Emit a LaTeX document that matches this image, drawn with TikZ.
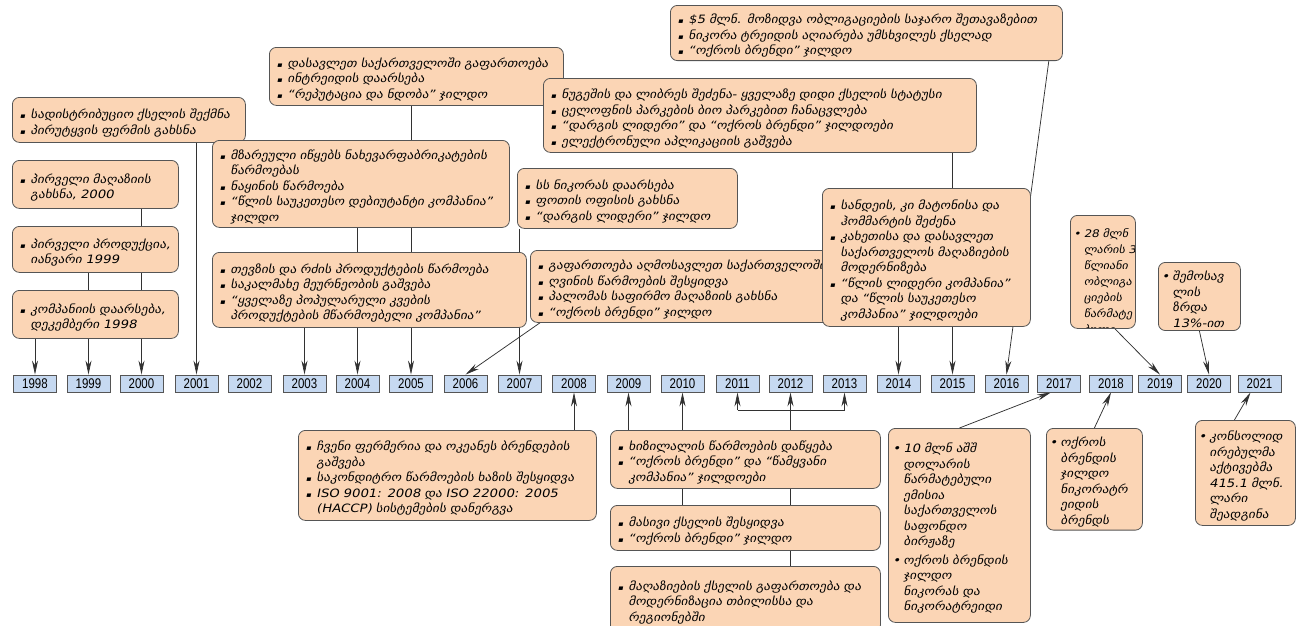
\documentclass[tikz,border=0pt]{standalone}
\usepackage{fontspec}
\usepackage{enumitem}
\usetikzlibrary{arrows.meta, backgrounds, positioning}
\setmainfont{DejaVu Sans}[FakeSlant=0.2, FakeStretch=1.15]
\newfontfamily\yrfont{Liberation Sans}[FakeStretch=0.82]
\definecolor{boxpeach}{RGB}{251, 213, 181}
\definecolor{boxline}{RGB}{85, 85, 85}
\definecolor{yearblue}{RGB}{198, 217, 241}
\definecolor{linkgray}{RGB}{50, 50, 50}
\newlist{events}{itemize}{1}
\setlist[events]{label={\scriptsize ▪}, leftmargin=13pt, labelsep=5pt, itemsep=0pt, parsep=0pt, topsep=0pt, partopsep=0pt}
\newlist{narrow}{itemize}{1}
\setlist[narrow]{label=\textbullet, leftmargin=10pt, labelsep=3pt, itemsep=3pt, parsep=0pt, topsep=0pt, partopsep=0pt}

\begin{document}
\begin{tikzpicture}[
  x=1pt, y=-1pt,
  event/.style={draw=boxline, fill=boxpeach, line width=0.8pt, rounded corners=7pt, anchor=north west, inner xsep=5pt, inner ysep=3pt, align=left, font=\fontsize{11.5}{15.5}\selectfont},
  yearbox/.style={draw=boxline, fill=yearblue, line width=0.8pt, minimum width=43pt, minimum height=17pt, inner sep=0pt, font=\yrfont\fontsize{14}{14}\selectfont},
  link/.style={draw=linkgray, line width=0.75pt},
  arr/.style={link, -{Stealth[length=14pt, width=6pt, inset=4.5pt]}}
]
  \useasboundingbox (0,0) rectangle (1302,625);
  \clip (0,0) rectangle (1302,625);

  % timeline
  \foreach \yr/\xx in {1998/35, 1999/88.5, 2000/141.5, 2001/196.5, 2002/249.5, 2003/304.5, 2004/357.5, 2005/411, 2006/465.5, 2007/519.5, 2008/574, 2009/628.5, 2010/682.5, 2011/737.5, 2012/790.5, 2013/844.5, 2014/898.5, 2015/952.5, 2016/1006.5, 2017/1059, 2018/1111, 2019/1160, 2020/1209, 2021/1259.5}
    \node[yearbox] (y\yr) at (\xx,383.5) {\yr};

  % upper events
  \node[event, minimum width=233pt, minimum height=45pt, text width=223pt] (sadistr) at (12,97) {
    \begin{events}
      \item სადისტრიბუციო ქსელის შექმნა
      \item პირუტყვის ფერმის გახსნა
    \end{events}};
  \node[event, minimum width=166pt, minimum height=48pt, text width=156pt] (pirvmag) at (12,160) {
    \begin{events}
      \item პირველი მაღაზიის გახსნა, 2000
    \end{events}};
  \node[event, minimum width=166pt, minimum height=46pt, text width=156pt] (pirvprod) at (12,226) {
    \begin{events}
      \item პირველი პროდუქცია, იანვარი 1999
    \end{events}};
  \node[event, minimum width=166pt, minimum height=48pt, text width=156pt] (daarseba) at (12,290) {
    \begin{events}
      \item კომპანიის დაარსება, დეკემბერი 1998
    \end{events}};
  \node[event, minimum width=294pt, minimum height=58pt, text width=284pt] (dasavleti) at (269,47) {
    \begin{events}
      \item დასავლეთ საქართველოში გაფართოება
      \item ინტრეიდის დაარსება
      \item “რეპუტაცია და ნდობა” ჯილდო
    \end{events}};
  \node[event, minimum width=297pt, minimum height=87pt, text width=287pt] (mzareuli) at (212,140) {
    \begin{events}
      \item მზარეული იწყებს ნახევარფაბრიკატების წარმოებას
      \item ნაყინის წარმოება
      \item “წლის საუკეთესო დებიუტანტი კომპანია” ჯილდო
    \end{events}};
  \node[event, minimum width=314pt, minimum height=75pt, text width=304pt] (tevzi) at (212,252) {
    \begin{events}
      \item თევზის და რძის პროდუქტების წარმოება
      \item საკალმახე მეურნეობის გაშვება
      \item “ყველაზე პოპულარული კვების პროდუქტების მწარმოებელი კომპანია”
    \end{events}};
  \node[event, minimum width=433pt, minimum height=74pt, text width=423pt] (nugeshi) at (543,78) {
    \begin{events}
      \item ნუგეშის და ლიბრეს შეძენა- ყველაზე დიდი ქსელის სტატუსი
      \item ცელოფნის პარკების ბიო პარკებით ჩანაცვლება
      \item “დარგის ლიდერი” და “ოქროს ბრენდი” ჯილდოები
      \item ელექტრონული აპლიკაციის გაშვება
    \end{events}};
  \node[event, minimum width=220pt, minimum height=60pt, text width=210pt] (ssnikora) at (517,168) {
    \begin{events}
      \item სს ნიკორას დაარსება
      \item ფოთის ოფისის გახსნა
      \item “დარგის ლიდერი” ჯილდო
    \end{events}};
  \node[event, minimum width=392pt, minimum height=50pt, text width=382pt] (obligacia) at (670,5) {
    \begin{events}
      \item \$5 მლნ. მოზიდვა ობლიგაციების საჯარო შეთავაზებით
      \item ნიკორა ტრეიდის აღიარება უმსხვილეს ქსელად
      \item “ოქროს ბრენდი” ჯილდო
    \end{events}};
  \node[event, minimum width=310pt, minimum height=72pt, text width=300pt] (agmosavleti) at (530,250) {
    \begin{events}
      \item გაფართოება აღმოსავლეთ საქართველოში
      \item ღვინის წარმოების შესყიდვა
      \item პალომას საფირმო მაღაზიის გახსნა
      \item “ოქროს ბრენდი” ჯილდო
    \end{events}};
  \node[event, minimum width=208pt, minimum height=138pt, text width=198pt] (sandei) at (822,188) {
    \begin{events}
      \item სანდეის, კი მატონისა და ჰომმარტის შეძენა
      \item კახეთისა და დასავლეთ საქართველოს მაღაზიების მოდერნიზება
      \item “წლის ლიდერი კომპანია” და “წლის საუკეთესო კომპანია” ჯილდოები
    \end{events}};
  \node[event, minimum width=65pt, minimum height=113pt, path picture={
      \node[anchor=north west, inner sep=0pt, text width=100pt, align=left, font=\fontsize{10.5}{16}\selectfont]
        at ([xshift=3pt, yshift=-6pt]path picture bounding box.north west) {
        \begin{narrow}
          \item 28 მლნ\\ლარის 3-\\წლიანი\\ობლიგა\\ციების\\წარმატე\\ბული\\ემისია
        \end{narrow}};}] (mln28) at (1070,215) {};
  \node[event, minimum width=82pt, minimum height=66pt, text width=74pt, inner xsep=4pt] (shemosavali) at (1158,262) {
    \begin{narrow}
      \item შემოსავ\\ლის\\ზრდა\\13\%-ით
    \end{narrow}};

  % lower events
  \node[event, minimum width=298pt, minimum height=90pt, text width=288pt] (fermeria) at (298,430) {
    \begin{events}
      \item ჩვენი ფერმერია და ოკეანეს ბრენდების გაშვება
      \item საკონდიტრო წარმოების ხაზის შესყიდვა
      \item ISO 9001: 2008 და ISO 22000: 2005 (HACCP) სისტემების დანერგვა
    \end{events}};
  \node[event, minimum width=270pt, minimum height=58pt, text width=260pt] (xizilala) at (610,430) {
    \begin{events}
      \item ხიზილალის წარმოების დაწყება
      \item “ოქროს ბრენდი” და “წამყვანი კომპანია” ჯილდოები
    \end{events}};
  \node[event, minimum width=270pt, minimum height=45pt, text width=260pt] (masivi) at (610,505) {
    \begin{events}
      \item მასივი ქსელის შესყიდვა
      \item “ოქროს ბრენდი” ჯილდო
    \end{events}};
  \node[event, minimum width=270pt, minimum height=66pt, text width=260pt] (modernizacia) at (610,566) {
    \begin{events}
      \item მაღაზიების ქსელის გაფართოება და მოდერნიზაცია თბილისსა და რეგიონებში
    \end{events}};
  \node[event, minimum width=142pt, minimum height=194pt, text width=132pt] (mln10) at (888,428) {
    \begin{narrow}
      \item 10 მლნ აშშ\\დოლარის\\წარმატებული\\ემისია\\საქართველოს\\საფონდო\\ბირჟაზე
      \item ოქროს ბრენდის\\ჯილდო\\ნიკორას და\\ნიკორატრეიდი
    \end{narrow}};
  \node[event, minimum width=96pt, minimum height=94pt, text width=88pt, inner xsep=4pt] (oqrosbrendi) at (1046,428) {
    \begin{narrow}
      \item ოქროს\\ბრენდის\\ჯილდო\\ნიკორატრ\\ეიდის\\ბრენდს
    \end{narrow}};
  \node[event, minimum width=100pt, minimum height=105pt, text width=92pt, inner xsep=4pt] (aqtivebi) at (1195,420) {
    \begin{narrow}
      \item კონსოლიდ\\ირებულმა\\აქტივებმა\\415.1 მლნ.\\ლარი\\შეადგინა
    \end{narrow}};

  % connectors behind the boxes
  \begin{scope}[on background layer]
    \draw[arr] (daarseba.south -| y1998) -- (y1998);
    \draw[arr] (pirvprod.south -| y1999) -- (y1999);
    \draw[arr] (pirvmag.south -| y2000) -- (y2000);
    \draw[arr] (sadistr.south -| y2001) -- (y2001);
    \draw[arr] (tevzi.south -| y2003) -- (y2003);
    \draw[arr] (mzareuli.south -| y2004) -- (y2004);
    \draw[arr] (dasavleti.south -| y2005) -- (y2005);
    \draw[arr] ([xshift=10pt]agmosavleti.south west) -- (y2006.north);
    \draw[arr] (ssnikora.south -| y2007) -- (y2007);
    \draw[arr] (sandei.south -| y2014) -- (y2014);
    \draw[arr] (nugeshi.south -| y2015) -- (y2015);
    \draw[arr] ([xshift=-14pt]obligacia.south east) -- (y2016.north);
    \draw[arr] ([xshift=12pt]mln28.south) -- (y2019.north);
    \draw[arr] (shemosavali.south) -- (y2020.north);
    \draw[arr] (fermeria.north -| y2008) -- (y2008);
    \draw[arr] (xizilala.north -| y2009) -- (y2009);
    \draw[arr] (masivi.north -| y2010) -- (y2010);
    \coordinate (branch) at (790.5,410);
    \draw[arr] (modernizacia.north -| y2012) -- (y2012);
    \draw[link] (branch -| y2011) -- (branch -| y2013);
    \draw[arr] (branch -| y2011) -- (y2011);
    \draw[arr] (branch -| y2013) -- (y2013);
    \draw[arr] (mln10.north) -- ([xshift=-8pt]y2017.south);
    \draw[arr] (oqrosbrendi.north) -- (y2018.south);
    \draw[arr] ([xshift=-11pt]aqtivebi.north) -- ([xshift=-9pt]y2021.south);
  \end{scope}
\end{tikzpicture}
\end{document}
